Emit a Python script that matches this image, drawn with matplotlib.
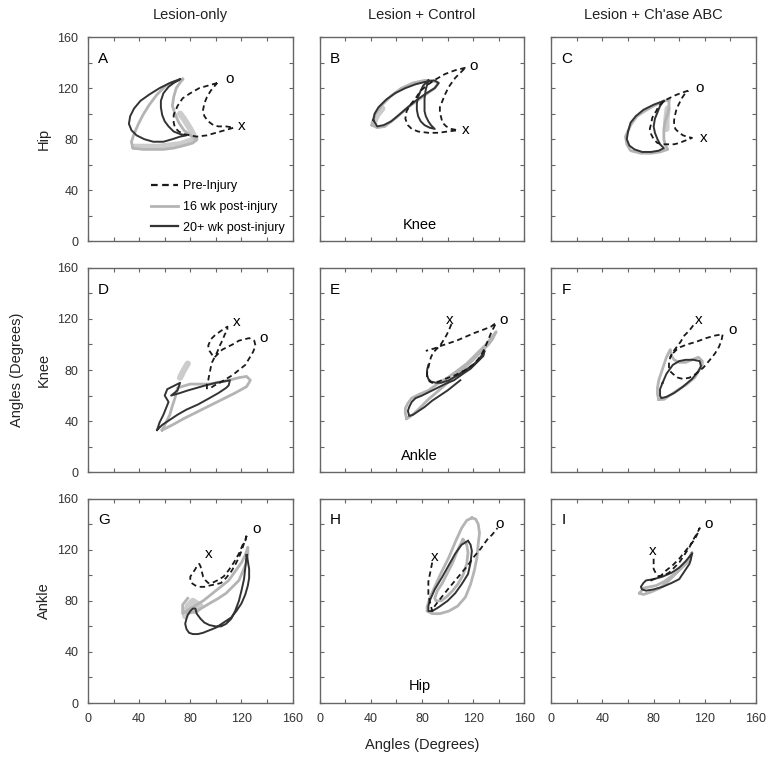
import matplotlib
matplotlib.use("Agg")
import matplotlib.pyplot as plt
from matplotlib.lines import Line2D

plt.rcParams['font.family'] = ['Liberation Sans', 'DejaVu Sans']

# column / row names
col_titles = ['Lesion-only', 'Lesion + Control', "Lesion + Ch'ase ABC"]
row_names = ['Hip', 'Knee', 'Ankle']
panel_letters = ['A', 'B', 'C', 'D', 'E', 'F', 'G', 'H', 'I']
inner_labels = {1: 'Knee', 4: 'Ankle', 7: 'Hip'}
tick_vals = [0, 20, 40, 60, 80, 100, 120, 140, 160]
tick_text = ['0', '', '40', '', '80', '', '120', '', '160']

# traced loops (x, y) in degrees
# A
a_pre = [(101,124),(94,122),(87,120),(80,116),(74,112),(70,106),(67,99),(67,93),(68,89),
         (71,86),(75,84),(85,82),(93,83),(100,85),(107,87),(114,89),(108,90),(102,90),(98,91),
         (94,94),(91,98),(90,103),(91,108),(93,113),(96,118),(101,124)]
a_16 = [(74,127),(67,125),(61,122),(54,115),(48,107),(43,99),(39,91),(36,84),(34,78),(35,73),
        (43,72),(51,72),(59,72),(67,73),(75,75),(82,77),(85,80),(80,83),(75,87),(71,93),
        (68,100),(66,106),(67,113),(69,120),(74,127)]
a_16_thick = [(36,74),(55,74),(72,76),(84,80),(80,88),(75,96),(72,100)]
a_20 = [(72,127),(64,124),(56,120),(48,115),(41,110),(36,104),(33,98),(32,92),(34,87),(38,83),
        (44,80),(51,78),(59,78),(66,80),(72,82),(77,83),(72,84),(67,86),(63,90),(60,94),(58,99),
        (57,105),(57,110),(59,116),(63,121),(67,124),(72,127)]
# B
b_pre = [(114,136),(106,134),(98,131),(91,127),(85,123),(79,118),(75,112),(71,107),(68,102),
         (67,96),(69,91),(72,88),(77,86),(85,85),(93,85),(100,86),(108,87),(103,88),(99,90),
         (96,93),(95,97),(94,101),(94,105),(96,110),(98,115),(101,121),(106,128),(110,132),
         (114,136)]
b_16 = [(41,91),(43,99),(49,107),(56,114),(64,120),(73,124),(82,126),(88,126),(93,124),(90,120),
        (83,115),(76,110),(69,105),(60,97),(51,90),(45,89),(41,91)]
b_16_thick = [(42,92),(45,99),(49,104)]
b_20 = [(42,95),(43,100),(46,105),(52,111),(59,116),(67,120),(75,123),(83,125),(90,126),(93,124),
        (90,120),(82,115),(75,110),(69,105),(62,99),(56,94),(50,91),(45,90),(42,95)]
b_20b = [(85,126),(81,122),(79,118),(77,113),(76,108),(76,103),(77,98),(79,94),(82,91),(86,89),
         (90,88),(87,91),(85,94),(83,98),(82,102),(82,107),(82,112),(83,119),(85,126)]
# C
c_pre = [(107,118),(101,116),(96,114),(92,112),(88,110),(84,106),(82,102),(79,97),(78,92),
         (77,88),(78,84),(80,80),(83,77),(87,76),(92,76),(96,76),(100,77),(105,79),(110,81),
         (106,82),(103,83),(100,85),(97,88),(96,91),(96,95),(97,100),(98,104),(100,108),
         (102,112),(104,115),(107,118)]
c_16 = [(92,111),(86,109),(80,106),(73,102),(67,98),(62,91),(58,82),(59,76),(62,71),(70,69),
        (78,69),(85,70),(91,72),(89,76),(88,80),(88,84),(88,88),(89,94),(91,100),(92,105),(92,111)]
c_16_thick = [(91,104),(90,96),(90,88)]
c_20 = [(88,110),(80,107),(72,103),(66,98),(62,93),(60,86),(59,80),(61,75),(65,72),(71,70),
        (78,70),(84,71),(88,73),(85,76),(83,80),(81,85),(80,90),(81,96),(83,101),(85,106),(88,110)]
# D
d_pre = [(93,65),(93,69),(94,72),(95,77),(96,82),(97,86),(99,90),(97,92),(95,95),(94,99),
         (96,104),(99,107),(103,110),(106,112),(109,114),(109,111),(107,108),(105,103),(103,99),
         (101,94),(99,90),(102,93),(105,96),(109,98),(113,100),(118,103),(122,104),(126,105),
         (130,103),(131,99),(129,94),(126,89),(123,84),(118,80),(113,76),(108,73),(103,70),
         (99,68),(96,66)]
d_16 = [(58,33),(61,39),(64,45),(66,52),(68,58),(70,66),(80,69),(95,69),(110,72),(118,74),
        (124,75),(127,72),(124,67),(115,62),(105,57),(95,52),(85,47),(75,42),(66,37),(60,34),
        (58,33)]
d_16_thick = [(72,74),(75,80),(78,85)]
d_20 = [(54,33),(56,39),(59,45),(61,50),(63,55),(60,60),(62,65),(68,68),(72,70),(70,64),
        (65,60),(72,62),(78,64),(85,66),(92,68),(100,70),(106,71),(111,72),(110,68),(108,66),
        (102,62),(95,58),(86,53),(77,49),(70,45),(64,41),(58,37),(54,33)]
# E
e_pre = [(103,116),(101,111),(99,107),(96,102),(94,99),(90,95),(88,92),(87,90),(86,86),(85,82),
         (84,78),(84,74),(86,71),(88,70),(93,71),(98,73),(106,76),(114,80),(121,85),(126,91),
         (129,97),(132,104),(134,109),(136,113),(138,117),(134,114),(129,112),(121,109),
         (114,106),(107,103),(101,101),(95,99),(90,97),(83,95)]
e_16 = [(68,42),(67,46),(67,50),(69,54),(72,58),(78,61),(85,64),(92,69),(100,74),(107,79),
        (115,85),(122,92),(130,100),(134,105),(138,110),(135,104),(132,100),(125,93),(118,86),
        (109,78),(100,70),(92,63),(85,57),(79,51),(74,46),(70,43),(68,42)]
e_20 = [(85,84),(84,80),(84,76),(85,73),(87,71),(91,70),(95,70),(101,72),(108,76),(114,80),
        (120,84),(125,89),(129,95),(128,91),(124,87),(118,81),(112,77),(105,72),(98,69),(92,66),
        (86,63),(80,60),(75,58),(72,55),(70,51),(69,48),(70,44),(73,45),(76,47),(82,51),(88,56),
        (94,60),(100,64),(105,68),(110,72)]
# F
f_pre = [(111,115),(108,111),(104,107),(101,102),(98,98),(95,94),(93,90),(92,86),(92,82),
         (93,79),(95,77),(99,74),(103,73),(108,74),(113,77),(119,82),(124,88),(128,93),(131,98),
         (133,103),(134,108),(128,107),(121,105),(113,102),(106,100),(101,98),(98,96),(95,93),
         (93,90)]
f_16 = [(84,57),(83,61),(83,66),(84,72),(86,78),(88,84),(90,90),(93,96),(94,91),(96,88),
        (100,86),(105,86),(110,88),(115,90),(118,87),(118,84),(115,79),(112,74),(106,69),
        (100,65),(94,61),(88,57),(84,57)]
f_20 = [(87,70),(90,77),(95,84),(100,87),(105,88),(111,88),(116,87),(117,83),(115,79),(110,73),
        (103,67),(96,62),(90,59),(86,58),(85,60),(85,65),(87,70)]
# G
g_pre = [(124,131),(123,127),(121,124),(118,117),(114,110),(110,104),(106,99),(101,96),(97,94),
         (94,94),(92,96),(90,99),(89,103),(88,107),(87,109),(85,107),(84,105),(82,102),(80,99),
         (80,96),(81,94),(84,92),(87,91),(91,91),(95,92),(100,93),(104,94),(108,98),(112,103),
         (115,108),(118,114),(120,119),(122,125),(124,131)]
g_16 = [(78,82),(74,77),(74,70),(80,74),(85,77),(90,80),(95,84),(100,88),(105,92),(110,96),
        (115,103),(120,110),(123,116),(125,122),(125,116),(124,110),(121,103),(118,96),(113,91),
        (108,86),(102,82),(95,78),(90,75),(85,72),(78,70)]
g_16_thick = [(76,68),(78,76),(82,80),(88,76),(84,72)]
g_20 = [(124,116),(125,111),(126,105),(126,98),(125,92),(123,85),(120,78),(116,72),(112,67),
        (106,63),(100,59),(95,57),(90,55),(86,54),(82,54),(79,55),(77,58),(76,62),(77,66),
        (78,69),(80,72),(82,74),(84,74),(85,70),(88,66),(91,63),(95,61),(100,60),(104,60),
        (108,62),(112,66),(115,72),(118,80),(120,88),(122,97),(123,106),(124,116)]
# H
h_pre = [(88,110),(87,105),(86,100),(85,95),(85,90),(85,85),(86,80),(87,76),(88,72),(90,76),
         (93,80),(97,85),(101,90),(106,96),(111,102),(116,108),(121,115),(126,121),(131,128),
         (135,132),(139,137)]
h_16 = [(119,145),(122,144),(124,140),(125,133),(124,125),(123,114),(121,104),(118,93),(114,83),
        (108,76),(101,72),(94,70),(88,70),(84,72),(84,75),(86,82),(90,91),(95,102),(101,114),
        (106,126),(111,137),(115,143),(119,145)]
h_16b = [(112,128),(115,124),(116,118),(115,109),(112,100),(108,93),(104,88),(99,83),(95,80),
         (91,80),(90,82),(92,88),(96,94),(100,102),(104,110),(108,120),(112,128)]
h_20 = [(116,127),(118,124),(119,119),(118,110),(116,101),(111,93),(106,86),(100,80),(93,75),
        (88,72),(85,72),(85,76),(86,80),(90,89),(96,99),(101,108),(106,117),(111,124),(116,127)]
# I
i_pre = [(80,113),(80,109),(80,105),(82,101),(84,99),(88,100),(92,102),(96,106),(100,110),
         (104,116),(108,122),(111,128),(114,133),(116,137),(114,132),(112,128),(108,123),
         (104,118),(100,113),(95,108),(90,104),(86,100),(83,98),(80,97),(76,95)]
i_16 = [(69,86),(72,90),(77,91),(82,92),(88,95),(95,100),(101,105),(108,112),(110,118),
        (108,114),(106,110),(101,105),(96,100),(91,95),(85,90),(78,87),(72,85),(69,86)]
i_20 = [(110,117),(109,112),(108,109),(104,103),(100,97),(94,94),(87,91),(80,89),(74,88),
        (71,89),(70,91),(72,94),(74,96),(80,97),(87,99),(94,102),(100,106),(105,111),(110,117)]

# start ('o') and end ('x') markers text positions
x_marks = [(120,90),(114,87),(119,81),(116,118),(102,119),(115,119),(94,117),(90,114),(79,119)]
o_marks = [(111,127),(120,137),(116,120),(137,105),(144,119),(142,111),(132,136),(141,140),(123,140)]

pre_lines = [[a_pre], [b_pre], [c_pre], [d_pre], [e_pre], [f_pre], [g_pre], [h_pre], [i_pre]]
wk16_lines = [[a_16], [b_16], [c_16], [d_16], [e_16], [f_16], [g_16], [h_16, h_16b], [i_16]]
wk16_thick = [[a_16_thick], [b_16_thick], [c_16_thick], [d_16_thick], [], [], [g_16_thick], [], []]
wk20_lines = [[a_20], [b_20, b_20b], [c_20], [d_20], [e_20], [f_20], [g_20], [h_20], [i_20]]

GRAY = '#b4b4b4'
DARK = '#333333'


def xy(pts):
    return [p[0] for p in pts], [p[1] for p in pts]


fig, axes = plt.subplots(3, 3, figsize=(7.71, 7.62), dpi=100)
fig.subplots_adjust(left=0.1141, right=0.9805, top=0.9514, bottom=0.0774,
                    wspace=0.132, hspace=0.13)

for k, ax in enumerate(axes.flat):
    r, c = divmod(k, 3)
    for seg in wk16_thick[k]:
        ax.plot(*xy(seg), color='#cccccc', lw=4.5, solid_capstyle='round')
    for seg in wk16_lines[k]:
        ax.plot(*xy(seg), color=GRAY, lw=2.0, solid_joinstyle='round')
    for seg in wk20_lines[k]:
        ax.plot(*xy(seg), color=DARK, lw=1.4, solid_joinstyle='round')
    for seg in pre_lines[k]:
        ax.plot(*xy(seg), color='#1a1a1a', lw=1.3, ls=(0, (3, 2)))
    ax.text(*x_marks[k], 'x', fontsize=11, ha='center', va='center')
    ax.text(*o_marks[k], 'o', fontsize=11, ha='center', va='center')
    ax.text(8, 143, panel_letters[k], fontsize=11, ha='left', va='center')
    if k in inner_labels:
        ax.text(78, 13, inner_labels[k], fontsize=10.5, ha='center', va='center')

    ax.set_xlim(0, 160)
    ax.set_ylim(0, 160)
    ax.set_xticks(tick_vals)
    ax.set_yticks(tick_vals)
    ax.set_xticklabels(tick_text if r == 2 else [])
    ax.set_yticklabels(tick_text if c == 0 else [])
    ax.tick_params(direction='in', length=3, width=0.8, top=True, right=True,
                   labelsize=9, pad=7, color='#666666', labelcolor='#333333')
    for sp in ax.spines.values():
        sp.set_color('#666666')
        sp.set_linewidth(1.0)

# legend in panel A
handles = [Line2D([], [], color='#1a1a1a', lw=1.6, ls=(0, (3, 2))),
           Line2D([], [], color=GRAY, lw=2.0),
           Line2D([], [], color=DARK, lw=1.6)]
axes[0, 0].legend(handles, ['Pre-Injury', '16 wk post-injury', '20+ wk post-injury'],
                  loc='lower right', frameon=False, fontsize=9, handlelength=2.2,
                  handletextpad=0.4, labelspacing=0.7, borderaxespad=0.2)

for c, t in enumerate(col_titles):
    bb = axes[0, c].get_position()
    fig.text((bb.x0 + bb.x1) / 2, 0.980, t, ha='center', va='center', fontsize=10.5,
             color='#222222')
for r, t in enumerate(row_names):
    bb = axes[r, 0].get_position()
    fig.text(0.057, (bb.y0 + bb.y1) / 2, t, ha='center', va='center', rotation=90,
             fontsize=10.5, color='#222222')

mid = axes[1, 0].get_position()
fig.text(0.022, (mid.y0 + mid.y1) / 2, 'Angles (Degrees)', ha='center', va='center',
         rotation=90, fontsize=10.5, color='#222222')
midx = axes[2, 1].get_position()
fig.text((midx.x0 + midx.x1) / 2, 0.022, 'Angles (Degrees)', ha='center', va='center',
         fontsize=10.5, color='#222222')

fig.savefig('out.png', dpi=100)
